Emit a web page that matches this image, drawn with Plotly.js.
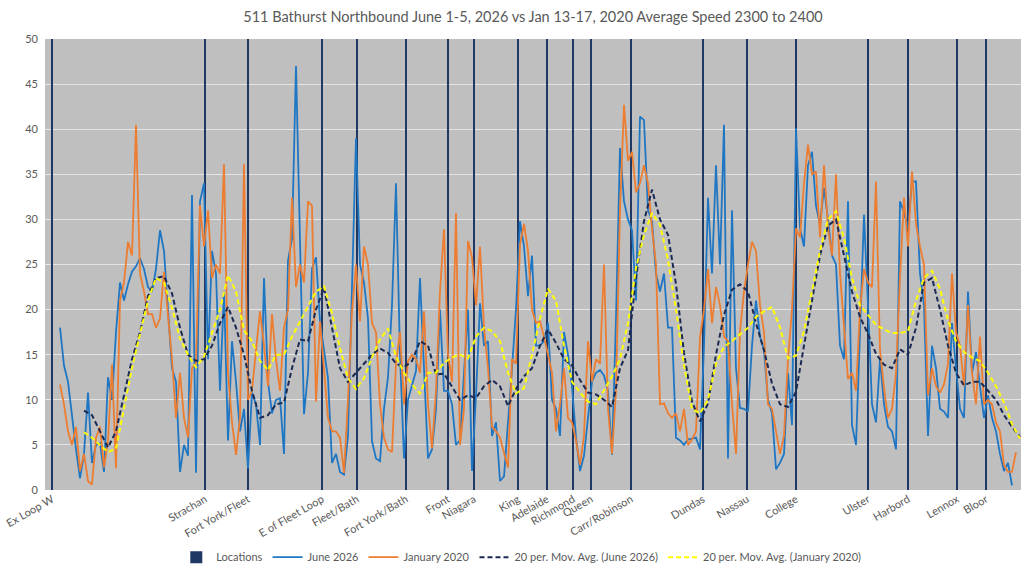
<!DOCTYPE html>
<html>
<head>
<meta charset="utf-8">
<script src="https://cdn.plot.ly/plotly-3.0.1.min.js"></script>
<style>
  html, body { margin: 0; padding: 0; background: #ffffff; }
  #chart { width: 1024px; height: 575px; }
</style>
</head>
<body>
<div id="chart"></div>
<script>
// ---- Data (sample index along the route; each sample index is one reading) ----
const locationLabels = ["Ex Loop W", "Strachan", "Fort York/Fleet", "E of Fleet Loop", "Fleet/Bath",
  "Fort York/Bath", "Front", "Niagara", "King", "Adelaide", "Richmond", "Queen", "Carr/Robinson",
  "Dundas", "Nassau", "College", "Ulster", "Harbord", "Lennox", "Bloor"];
const locationIdx = [0, 38.25, 49, 67.5, 76.25, 88.5, 99, 105.5, 116.5, 123.75, 130.25, 134.75,
  144.75, 162.75, 173.75, 186, 204, 214, 226.25, 233.5];
const locationHeight = 50;

const juneStart = 2;
const june2026 = [18.0,13.8,12.0,8.0,4.5,1.3,4.0,10.8,3.0,5.0,
  5.2,2.0,12.5,10.0,17.5,23.0,21.0,22.8,24.2,24.8,
  25.7,24.5,22.5,22.0,24.5,28.8,26.5,20.0,13.5,12.0,
  2.0,5.0,3.8,32.7,1.9,32.0,34.0,14.5,26.5,24.0,
  11.0,22.0,5.5,16.5,12.0,6.5,9.0,2.4,10.8,9.5,
  5.0,23.5,12.0,8.5,10.0,10.2,4.0,25.4,27.9,47.0,
  28.0,8.4,13.0,24.5,25.8,18.7,15.5,12.4,3.0,4.0,
  2.0,1.7,6.0,22.0,39.0,25.0,23.0,19.0,5.4,3.5,
  3.2,9.0,12.5,20.5,34.0,15.0,3.5,10.0,11.7,13.2,
  23.5,14.0,3.5,4.5,9.0,20.0,11.0,11.0,9.5,5.0,
  5.5,13.0,20.0,2.1,10.5,20.7,16.0,16.5,6.0,7.5,
  1.0,1.5,7.0,13.5,20.0,29.8,27.0,21.5,26.0,16.0,
  16.0,16.5,18.5,10.0,9.0,6.0,17.5,15.0,11.5,5.8,
  2.1,3.8,8.0,12.0,13.0,13.3,12.7,11.0,3.9,19.0,
  37.9,32.0,30.0,28.8,21.0,41.4,41.0,31.0,29.8,24.0,
  22.0,24.0,18.0,18.0,5.8,5.5,5.0,5.6,5.7,5.8,
  4.5,16.0,32.4,24.0,36.0,25.0,40.5,3.5,31.0,13.5,
  9.1,9.0,8.7,16.0,21.0,17.0,15.5,10.0,8.5,2.3,
  3.0,4.0,13.0,7.2,40.1,29.0,27.0,36.0,37.5,31.5,
  29.4,33.5,30.0,26.0,25.0,16.0,14.5,32.0,7.2,5.0,
  17.5,30.5,20.5,9.5,7.5,14.5,9.5,7.0,6.5,4.5,
  32.0,30.8,29.0,34.2,34.2,24.0,20.5,6.0,16.0,13.5,
  9.0,8.7,8.0,18.5,13.5,9.0,8.0,22.0,13.0,15.3,
  11.5,8.0,10.5,8.0,6.5,4.0,2.1,3.0,0.5];

const janStart = 2;
const jan2020 = [11.7,9.5,6.5,5.0,7.0,2.1,4.0,1.0,0.6,5.8,
  7.0,2.5,5.5,13.9,2.4,21.0,23.0,27.5,26.0,40.5,
  24.0,22.0,19.5,19.5,18.0,19.0,24.2,19.5,14.5,8.0,
  13.0,8.0,5.8,13.5,14.0,31.6,27.0,31.0,23.5,25.0,
  24.0,36.1,13.0,7.5,3.9,8.0,36.1,10.0,11.0,15.5,
  19.8,16.0,11.5,19.5,14.5,11.0,18.0,20.0,32.4,22.5,
  25.0,23.0,32.0,31.5,9.8,18.7,13.5,8.0,6.5,6.5,
  5.8,1.9,10.0,19.8,25.0,18.7,27.0,25.0,18.5,17.5,
  9.5,5.8,4.5,4.2,14.0,17.5,9.5,14.3,15.0,14.5,
  13.0,19.8,9.5,4.6,11.0,22.0,28.9,15.0,12.0,30.7,
  5.0,9.0,27.6,25.8,20.5,27.0,18.0,13.5,7.0,6.5,
  5.8,4.0,2.5,14.5,14.0,27.2,29.5,26.5,20.0,18.5,
  18.7,17.0,15.0,13.0,6.5,9.5,13.5,8.0,7.5,5.5,
  2.8,6.0,16.5,12.0,14.5,14.0,25.0,9.0,4.0,11.0,
  31.0,42.7,36.5,37.5,33.0,34.0,36.0,34.0,29.0,25.0,
  9.5,9.6,8.5,8.0,8.5,6.5,9.0,5.0,5.6,6.5,
  16.9,20.0,24.5,18.5,22.5,20.5,17.0,16.5,9.5,4.0,
  17.6,22.0,25.0,27.5,26.5,20.5,17.5,9.5,9.0,6.5,
  4.0,6.0,14.5,20.0,29.0,28.0,34.0,38.3,35.0,35.3,
  28.0,36.0,29.0,26.0,35.0,24.0,18.3,12.3,13.0,11.0,
  20.0,24.5,23.0,22.5,34.2,15.5,11.3,8.0,9.0,13.0,
  23.5,32.4,27.0,35.3,29.5,27.0,25.0,10.5,13.5,11.5,
  10.8,11.7,14.0,24.0,17.5,16.0,11.5,20.5,13.0,9.5,
  17.0,9.5,10.0,9.5,7.5,6.5,2.8,2.0,2.0,4.2];

// 20-period moving averages (every second sample)
const maStart = 8;
const maStride = 2;
const juneMA = [8.8,8.3,6.5,4.7,6.5,10.4,14.5,17.5,21.5,23.5,
  23.7,21.8,18.0,15.0,14.3,14.5,16.0,18.5,20.3,18.0,
  15.0,11.0,8.0,8.3,9.5,9.7,13.5,16.7,16.5,20.0,
  22.4,18.0,13.5,12.0,13.0,14.0,15.0,15.7,15.2,14.0,
  13.6,14.3,16.5,16.0,12.8,12.9,11.5,10.0,10.5,10.2,
  11.5,12.2,11.5,9.3,11.2,12.6,13.5,16.0,17.8,16.3,
  14.5,13.8,12.2,10.8,10.6,10.0,9.2,13.5,15.5,23.5,
  29.8,33.3,30.0,28.3,22.8,15.2,9.8,7.6,9.6,15.0,
  19.4,22.2,22.8,22.0,18.5,15.5,11.8,9.5,9.2,10.9,
  16.0,21.0,26.0,29.3,30.0,26.0,22.0,19.2,17.3,15.1,
  13.9,13.5,15.6,15.0,18.0,23.0,23.5,20.0,16.0,13.0,
  11.6,12.0,12.0,11.0,10.0,8.3,7.0,5.9];
const janMA = [6.4,5.8,5.0,4.2,4.6,9.0,13.5,17.3,21.0,23.5,
  23.0,20.2,16.8,15.0,13.6,14.8,17.5,20.0,23.8,22.0,
  17.7,16.5,14.3,13.3,15.0,15.0,17.0,18.7,20.3,22.0,
  22.6,19.6,15.7,12.4,11.2,12.4,14.7,16.7,17.9,14.8,
  13.0,11.7,10.7,13.0,13.0,14.1,14.7,15.0,14.6,17.0,
  18.0,17.6,16.5,13.0,10.7,11.3,15.0,19.0,22.3,21.0,
  16.0,12.0,10.8,9.8,9.5,11.0,12.6,14.5,18.5,24.6,
  28.3,30.7,29.4,25.5,20.0,13.8,9.0,8.5,10.0,14.0,
  15.9,16.5,17.2,18.0,19.2,19.8,20.3,18.0,14.6,14.9,
  17.6,22.2,26.5,30.0,30.9,27.9,23.5,20.5,19.4,18.3,
  17.8,17.4,17.4,17.6,21.0,23.5,24.3,22.3,18.8,16.5,
  15.3,14.7,14.3,13.0,11.5,9.7,7.3,5.7];

const chartTitle = "511 Bathurst Northbound June 1-5, 2026 vs Jan 13-17, 2020 Average Speed 2300 to 2400";
const yTicks = [0, 5, 10, 15, 20, 25, 30, 35, 40, 45, 50];

// ---- Build traces ----
const seq = (start, n, stride) => Array.from({length: n}, (_, k) => start + k * stride);
const FONT = "Lato, 'Open Sans', sans-serif";

const traces = [
  {
    type: "bar", name: "Locations",
    x: locationIdx, y: locationIdx.map(() => locationHeight),
    width: 0.3,
    marker: {color: "#1F3864", line: {width: 0}},
    hoverinfo: "skip"
  },
  {
    type: "scatter", mode: "lines", name: "June 2026",
    x: seq(juneStart, june2026.length, 1), y: june2026,
    line: {color: "#1F77C4", width: 1.8}
  },
  {
    type: "scatter", mode: "lines", name: "January 2020",
    x: seq(janStart, jan2020.length, 1), y: jan2020,
    line: {color: "#ED7D31", width: 1.8}
  },
  {
    type: "scatter", mode: "lines", name: "20 per. Mov. Avg. (June 2026)",
    x: seq(maStart, juneMA.length, maStride), y: juneMA,
    line: {color: "#1B2A52", width: 2, dash: "5px,3px"}
  },
  {
    type: "scatter", mode: "lines", name: "20 per. Mov. Avg. (January 2020)",
    x: seq(maStart, janMA.length, maStride), y: janMA,
    line: {color: "#FFFF00", width: 2, dash: "5px,3px"}
  }
];

const layout = {
  width: 1024, height: 575,
  margin: {l: 45, r: 3, t: 39, b: 85},
  paper_bgcolor: "#ffffff",
  plot_bgcolor: "#BFBFBF",
  font: {family: FONT, size: 11, color: "#595959"},
  title: {
    text: chartTitle,
    font: {family: FONT, size: 14.5, color: "#595959"},
    x: 0.5, xref: "paper", xanchor: "center",
    y: 0.97, yref: "container", yanchor: "middle"
  },
  showlegend: true,
  legend: {
    orientation: "h", x: 0.488, xanchor: "center", y: -0.149, yanchor: "middle",
    font: {family: FONT, size: 11, color: "#595959"},
    bgcolor: "rgba(0,0,0,0)", traceorder: "normal"
  },
  bargap: 0,
  xaxis: {
    range: [-1.75, 242.25],
    tickmode: "array", tickvals: locationIdx, ticktext: locationLabels,
    tickangle: -30,
    tickfont: {family: FONT, size: 11, color: "#595959"},
    showgrid: false, zeroline: false, showline: false, ticks: "",
    fixedrange: true
  },
  yaxis: {
    range: [0, 50],
    tickmode: "array", tickvals: yTicks,
    tickfont: {family: FONT, size: 11, color: "#595959"},
    showgrid: true, gridcolor: "#E4E4E4", gridwidth: 1,
    zeroline: false, showline: false, ticks: "",
    ticklabelstandoff: 6,
    fixedrange: true
  }
};

Plotly.newPlot("chart", traces, layout, {staticPlot: true, displayModeBar: false});
</script>
</body>
</html>
